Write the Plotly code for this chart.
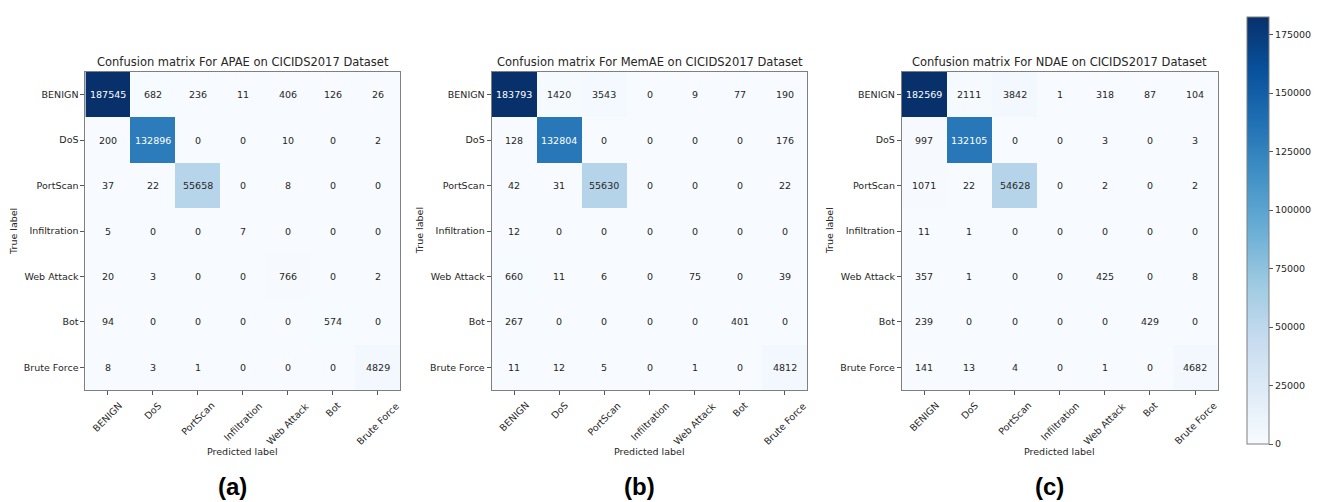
import plotly.graph_objects as go

# Class labels (rows = true label, columns = predicted label)
classes = ["BENIGN", "DoS", "PortScan", "Infiltration", "Web Attack", "Bot", "Brute Force"]

cm_apae = [
    [187545, 682, 236, 11, 406, 126, 26],
    [200, 132896, 0, 0, 10, 0, 2],
    [37, 22, 55658, 0, 8, 0, 0],
    [5, 0, 0, 7, 0, 0, 0],
    [20, 3, 0, 0, 766, 0, 2],
    [94, 0, 0, 0, 0, 574, 0],
    [8, 3, 1, 0, 0, 0, 4829],
]

cm_memae = [
    [183793, 1420, 3543, 0, 9, 77, 190],
    [128, 132804, 0, 0, 0, 0, 176],
    [42, 31, 55630, 0, 0, 0, 22],
    [12, 0, 0, 0, 0, 0, 0],
    [660, 11, 6, 0, 75, 0, 39],
    [267, 0, 0, 0, 0, 401, 0],
    [11, 12, 5, 0, 1, 0, 4812],
]

cm_ndae = [
    [182569, 2111, 3842, 1, 318, 87, 104],
    [997, 132105, 0, 0, 3, 0, 3],
    [1071, 22, 54628, 0, 2, 0, 2],
    [11, 1, 0, 0, 0, 0, 0],
    [357, 1, 0, 0, 425, 0, 8],
    [239, 0, 0, 0, 0, 429, 0],
    [141, 13, 4, 0, 1, 0, 4682],
]

model_names = ["APAE", "MemAE", "NDAE"]
panel_tags = ["(a)", "(b)", "(c)"]
matrices = [cm_apae, cm_memae, cm_ndae]

colorbar_ticks = [0, 25000, 50000, 75000, 100000, 125000, 150000, 175000]

# ColorBrewer "Blues" (same stops as matplotlib's Blues map)
blues = [
    [0.000, "rgb(247,251,255)"],
    [0.125, "rgb(222,235,247)"],
    [0.250, "rgb(198,219,239)"],
    [0.375, "rgb(158,202,225)"],
    [0.500, "rgb(107,174,214)"],
    [0.625, "rgb(66,146,198)"],
    [0.750, "rgb(33,113,181)"],
    [0.875, "rgb(8,81,156)"],
    [1.000, "rgb(8,48,107)"],
]

W, H = 1322, 502
FONT = "DejaVu Sans"
TXT = "#262626"

# Panel geometry in pixels (left, right, top, bottom)
panels_px = [(86, 403), (495, 813), (908, 1226)]
top_px, bottom_px = 72, 390

n = len(classes)
cat_range = [-0.5, n - 0.5]


def fx(px):
    return px / W


def fy(py):
    return 1 - py / H


fig = go.Figure()
annotations = []

for i, (cm, name, tag) in enumerate(zip(matrices, model_names, panel_tags)):
    ax = "" if i == 0 else str(i + 1)
    xref, yref = "x" + ax, "y" + ax
    zmax = max(max(r) for r in cm)
    thresh = zmax / 2.0
    show_cb = i == 2
    fig.add_trace(
        go.Heatmap(
            z=cm,
            x=classes,
            y=classes,
            xaxis=xref,
            yaxis=yref,
            colorscale=blues,
            zmin=0,
            zmax=zmax,
            showscale=show_cb,
            xgap=0,
            ygap=0,
            hoverinfo="skip",
            colorbar=dict(
                x=fx(1245),
                xanchor="left",
                y=fy(454),
                yanchor="bottom",
                len=(454 - 7) / H,
                lenmode="fraction",
                thickness=22,
                thicknessmode="pixels",
                outlinecolor="#7f7f7f",
                outlinewidth=1,
                tickvals=colorbar_ticks,
                ticktext=[str(v) for v in colorbar_ticks],
                ticks="outside",
                ticklen=4,
                tickcolor="#555",
                tickfont=dict(family=FONT, size=9.5, color=TXT),
            ),
        )
    )

    # Cell counts
    for r, row in enumerate(cm):
        for c, v in enumerate(row):
            annotations.append(
                dict(
                    x=classes[c],
                    y=classes[r],
                    xref=xref,
                    yref=yref,
                    text=str(v),
                    showarrow=False,
                    font=dict(family=FONT, size=9.5,
                              color="white" if v > thresh else TXT),
                )
            )

    # Rotated predicted-class labels, centred under each tick
    for c, lab in enumerate(classes):
        annotations.append(
            dict(
                x=lab, y=fy(397), xref=xref, yref="paper",
                text=lab, showarrow=False, textangle=-45,
                xanchor="center", yanchor="top",
                font=dict(family=FONT, size=9.5, color=TXT),
            )
        )

    left, right = panels_px[i]
    center = (left + right) / 2
    # Panel title
    annotations.append(
        dict(
            x=fx(center), y=fy(62), xref="paper", yref="paper",
            text=f"Confusion matrix For {name} on CICIDS2017 Dataset",
            showarrow=False, xanchor="center", yanchor="middle",
            font=dict(family=FONT, size=11.5, color=TXT),
        )
    )
    # Axis titles
    annotations.append(
        dict(
            x=fx(center), y=fy(451), xref="paper", yref="paper",
            text="Predicted label", showarrow=False,
            xanchor="center", yanchor="middle",
            font=dict(family=FONT, size=9.5, color=TXT),
        )
    )
    annotations.append(
        dict(
            x=fx(left - 73), y=fy((top_px + bottom_px) / 2), xref="paper", yref="paper",
            text="True label", showarrow=False, textangle=-90,
            xanchor="center", yanchor="middle",
            font=dict(family=FONT, size=9.5, color=TXT),
        )
    )
    # Panel tag
    annotations.append(
        dict(
            x=fx(center - 10), y=fy(486), xref="paper", yref="paper",
            text=f"<b>{tag}</b>", showarrow=False,
            xanchor="center", yanchor="middle",
            font=dict(family="Liberation Sans", size=24, color="black"),
        )
    )

    axis_common = dict(
        showgrid=False,
        zeroline=False,
        showline=True,
        linecolor="#7f7f7f",
        linewidth=1,
        mirror=True,
        ticks="outside",
        ticklen=4,
        tickcolor="#555",
        tickfont=dict(family=FONT, size=9.5, color=TXT),
    )
    fig.update_layout(
        **{
            "xaxis" + ax: dict(
                domain=[fx(left), fx(right)],
                anchor=yref,
                range=cat_range,
                autorange=False,
                showticklabels=False,
                **axis_common,
            ),
            "yaxis" + ax: dict(
                domain=[fy(bottom_px), fy(top_px)],
                anchor=xref,
                range=cat_range[::-1],
                autorange=False,
                **axis_common,
            ),
        }
    )

fig.update_layout(
    width=W,
    height=H,
    margin=dict(l=0, r=0, t=0, b=0),
    paper_bgcolor="white",
    plot_bgcolor="white",
    annotations=annotations,
    showlegend=False,
)

fig.write_html("out.html")
